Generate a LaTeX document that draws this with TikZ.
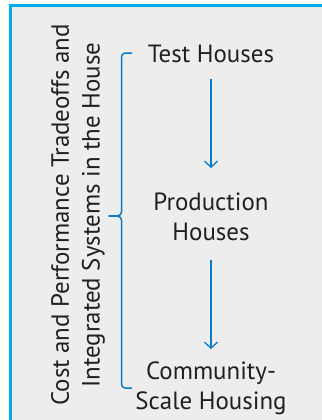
\documentclass[tikz,border=0pt]{standalone}
\usepackage{fontspec}
\setmainfont{PT Sans}
\usetikzlibrary{arrows.meta}
\definecolor{panelgray}{HTML}{EDEDED}
\definecolor{frameblue}{HTML}{00AEEF}
\definecolor{flowblue}{HTML}{0A7CC8}
\definecolor{textgray}{HTML}{231F20}
\tikzset{
  stage/.style={align=center,text=textgray,font=\fontsize{25}{30}\selectfont},
  side/.style={rotate=90,align=center,text=textgray,font=\fontsize{25}{31}\selectfont},
  flow/.style={flowblue,line width=1.3bp,-{Straight Barb[length=6bp,width=13bp,line width=1.3bp]}}
}
\begin{document}
\begin{tikzpicture}[x=1bp,y=-1bp]
        \useasboundingbox (0,0) rectangle (322,420);
        \fill[white] (0,0) rectangle (322,420);
        \fill[panelgray] (11,6) rectangle (330,430);
        \draw[frameblue,line width=3bp] (330,5.5) -- (10.5,5.5) -- (10.5,430);
        % stages
        \node[stage] at (211,54)  (test) {Test Houses};
        \node[stage] at (211,217) (prod) {Production\\Houses};
        \node[stage] at (211,388) (comm) {Community-\\Scale Housing};
        \draw[flow] (test.south |- 0,79) -- (prod.north |- 0,168);
        \draw[flow] (prod.south |- 0,260) -- (comm.north |- 0,349);
        % side label and brace
        \node[side] at (78,215) (tradeoffs) {Cost and Performance Tradeoffs and\\Integrated Systems in the House};
        \coordinate (top) at (132,53);
        \coordinate (tip) at (109,216);
        \coordinate (bot) at (132,388);
        \draw[flowblue,line width=1.5bp,line join=round]
          (top) -- (125,53) to[out=180,in=90] (121.5,57) -- (121.5,212)
          to[out=-90,in=0] (tip) to[out=0,in=90] (121.5,220)
          -- (121.5,384) to[out=-90,in=180] (125,388) -- (bot);
\end{tikzpicture}
\end{document}
